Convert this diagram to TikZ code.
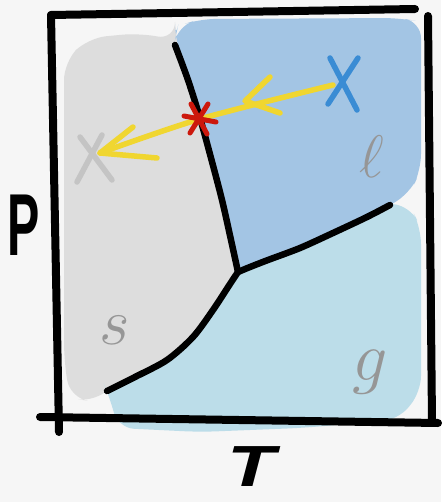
\RequirePackage{fix-cm}
\documentclass[tikz,border=0pt]{standalone}
\usepackage{fontspec}
\newfontfamily\handfont{Liberation Sans}
\definecolor{bg}{RGB}{246,246,246}
\definecolor{solidgray}{RGB}{221,221,221}
\definecolor{liqblue}{RGB}{163,197,228}
\definecolor{gasblue}{RGB}{188,221,233}
\definecolor{arrowyellow}{RGB}{240,214,48}
\definecolor{xblue}{RGB}{58,140,212}
\definecolor{xgray}{RGB}{196,196,196}
\definecolor{starred}{RGB}{204,24,12}
\definecolor{labelgray}{RGB}{150,150,150}
\tikzset{
  frameline/.style={line width=8pt, line cap=round, line join=round, black},
  phaseline/.style={line width=6.5pt, line cap=round, line join=round, black},
  yellowpath/.style={line width=5.5pt, line cap=round, line join=round, arrowyellow},
  xmark/.style={line width=5.5pt, line cap=round},
  phaselabel/.style={text=labelgray, inner sep=0pt},
  axislabel/.style={inner sep=0pt, text=black}
}
\begin{document}
\begin{tikzpicture}[x=1pt,y=-1pt]
\fill[bg] (0,0) rectangle (441,502);
\useasboundingbox (0,0) rectangle (441,502);

% key points
\coordinate (triple) at (238,272);
\coordinate (sltop) at (175,45);
\coordinate (lgend) at (390,205);
\coordinate (sgend) at (107,391);

% regions
\fill[solidgray] plot[smooth] coordinates {(175,40) (188,80) (200,118) (211,158) (222,200) (232,238) (239,272)}
  -- plot[smooth] coordinates {(239,273) (230,285) (213,310) (193,337) (167,360) (135,377) (107,391)}
  [rounded corners=18pt] -- (96,402) -- (70,398) -- (64,360) -- (64,62) -- (88,38) -- (140,33) -- (175,40) -- cycle;
\fill[liqblue] plot[smooth] coordinates {(175,40) (188,80) (200,118) (211,158) (222,200) (232,238) (238,272)}
  -- plot[smooth] coordinates {(238,272) (250,267) (268,260) (300,248) (333,233) (367,217) (392,204)}
  [rounded corners=16pt] -- (410,193) -- (421,170) -- (421,22) -- (400,18) -- (200,19) -- (178,26) -- cycle;
\fill[gasblue] plot[smooth] coordinates {(238,272) (250,267) (268,260) (300,248) (333,233) (367,217) (392,204)}
  [rounded corners=16pt] -- (410,206) -- (421,228) -- (421,392) -- (398,420) -- (300,428) -- (200,432) -- (118,428) -- (110,398)
  [sharp corners] -- plot[smooth] coordinates {(107,391) (135,377) (167,360) (193,337) (213,310) (230,285) (238,272)} -- cycle;

% phase boundaries
\draw[phaseline] plot[smooth] coordinates {(sltop) (188,80) (200,118) (211,158) (222,200) (231,240) (triple)};
\draw[phaseline] plot[smooth] coordinates {(triple) (250,267) (268,260) (300,248) (333,233) (367,217) (lgend)};
\draw[phaseline] plot[smooth] coordinates {(triple) (230,284) (213,310) (193,337) (167,360) (135,377) (sgend)};

% path of the system
\coordinate (xstart) at (333,85);
\coordinate (crit) at (200,119);
\coordinate (xend) at (100,153);
\draw[yellowpath] plot[smooth] coordinates {(xstart) (crit) (xend)};
\coordinate (tipa) at (245,101);
\draw[yellowpath] (270,77) -- (tipa) -- (280,113);
\draw[yellowpath] (133,127) -- (xend) -- (157,158);

% markers
\draw[xmark, xblue] (330,58) -- (357,110);
\draw[xmark, xblue] (358,58) -- (328,104);
\draw[xmark, xgray] (80,137) -- (112,180);
\draw[xmark, xgray] (102,135) -- (77,182);
\draw[line width=5pt, line cap=round, starred] (184,116) -- (216,122)
  (191,104) -- (207,134) (208,104) -- (190,133);

% phase labels
\node[phaselabel] (lab-l) at (372,157) {\fontsize{60}{60}\selectfont$\ell$};
\node[phaselabel] (lab-s) at (115,330) {\fontsize{66}{66}\selectfont$s$};
\node[phaselabel] (lab-g) at (370,372) {\fontsize{70}{70}\selectfont$g$};

% frame
\coordinate (tl) at (51,15);
\coordinate (tr) at (415,9);
\coordinate (lb) at (59,432);
\coordinate (bl) at (40,417);
\coordinate (br) at (438,423);
\coordinate (rt) at (428,16);
\coordinate (rb) at (432,422);
\draw[frameline] (tl) -- (tr);
\draw[frameline] (tl) -- (lb);
\draw[frameline] (bl) -- (br);
\draw[frameline] (rt) -- (rb);

% axis labels
\node[axislabel] (P) at (24,225) {\handfont\bfseries\fontsize{88}{88}\selectfont\scalebox{0.55}[1]{P}};
\node[axislabel] (T) at (251,467) {\handfont\bfseries\itshape\fontsize{58}{58}\selectfont\scalebox{1.35}[1]{T}};
\end{tikzpicture}
\end{document}
